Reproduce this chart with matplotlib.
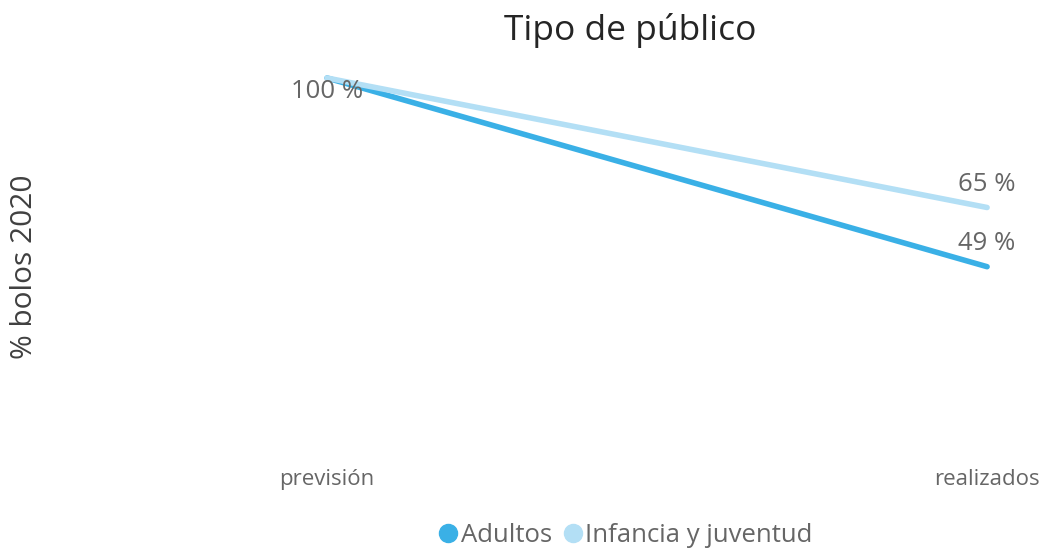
import matplotlib
matplotlib.use("Agg")
import matplotlib.pyplot as plt

categories = ["previsión", "realizados"]
series_names = ["Adultos", "Infancia y juventud"]
adultos = [100, 49]
infancia = [100, 65]
colors = ["#3AB0E6", "#B3DFF5"]

plt.rcParams['font.family'] = ['Open Sans', 'DejaVu Sans']

W, H = 1042, 548
fig = plt.figure(figsize=(W / 100, H / 100), dpi=100)

# axes placement in pixels
left_px, right_px = 260, 1030
bottom_px, top_px = 448, 59.5
ax = fig.add_axes([left_px / W, (H - bottom_px) / H, (right_px - left_px) / W, (bottom_px - top_px) / H])

x = list(range(len(categories)))
ax.plot(x, adultos, color=colors[0], lw=4.0, solid_capstyle="round", label=series_names[0], zorder=2)
ax.plot(x, infancia, color=colors[1], lw=4.0, solid_capstyle="round", label=series_names[1], zorder=3)

ax.set_xlim(-0.1015, 1.065)
ax.set_ylim(0, 105)

txtc = "#666666"
lblsize = 18.5
ax.annotate(f"{adultos[0]} %", (0, adultos[0]), xytext=(0, -14), textcoords="offset pixels",
            ha="center", va="center", fontsize=lblsize, color=txtc, zorder=4)
ax.annotate(f"{infancia[1]} %", (1, infancia[1]), xytext=(0, 23), textcoords="offset pixels",
            ha="center", va="center", fontsize=lblsize, color=txtc)
ax.annotate(f"{adultos[1]} %", (1, adultos[1]), xytext=(0, 23), textcoords="offset pixels",
            ha="center", va="center", fontsize=lblsize, color=txtc)

ax.set_xticks(x)
ax.set_xticklabels(categories, fontsize=16, color=txtc)
ax.tick_params(axis="x", length=0, pad=15)
ax.set_yticks([])
for s in ax.spines.values():
    s.set_visible(False)

fig.text(630 / W, 1 - 30 / H, "Tipo de público", ha="center", va="center", fontsize=25.5, color="#252525")
fig.text(25 / W, 1 - 267 / H, "% bolos 2020", ha="center", va="center", rotation=90, fontsize=21.5, color="#404040")

handles = [plt.Line2D([], [], marker="o", ls="", markersize=13, color=c) for c in colors]
fig.legend(handles, series_names, loc="center", bbox_to_anchor=(624 / W, 1 - 535 / H), ncol=2,
           frameon=False, fontsize=18.5, labelcolor=txtc, handletextpad=0.0, columnspacing=0.3,
           handlelength=1.0)

fig.savefig("out.png", dpi=100)
